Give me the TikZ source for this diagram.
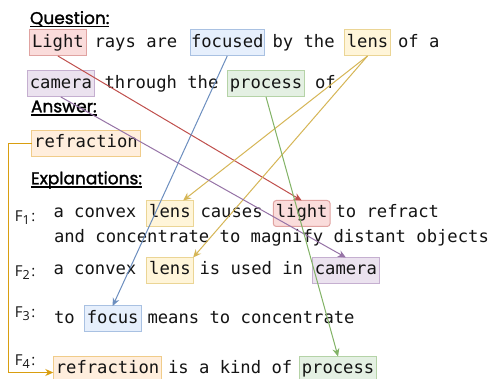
\documentclass[tikz,border=0pt]{standalone}
\usepackage{fontspec}
\setmainfont{Open Sans}
\newfontfamily\codefont{DejaVu Sans Mono}
\newfontfamily\headfont[FakeBold=1.4]{Poppins}
\usetikzlibrary{arrows.meta,calc}
\definecolor{redfill}{HTML}{FADCDB}
\definecolor{redborder}{HTML}{E0A3A1}
\definecolor{redline}{HTML}{C0504D}
\definecolor{bluefill}{HTML}{E6EFFC}
\definecolor{blueborder}{HTML}{A9C1E2}
\definecolor{blueline}{HTML}{6C8EBF}
\definecolor{yelfill}{HTML}{FFF5D9}
\definecolor{yelborder}{HTML}{EBD595}
\definecolor{yelline}{HTML}{D6B656}
\definecolor{purfill}{HTML}{EBE2EF}
\definecolor{purborder}{HTML}{C5AFD0}
\definecolor{purline}{HTML}{9673A6}
\definecolor{grnfill}{HTML}{E4F0E3}
\definecolor{grnborder}{HTML}{B5D3A7}
\definecolor{grnline}{HTML}{82B366}
\definecolor{orgfill}{HTML}{FFEEDD}
\definecolor{orgborder}{HTML}{F0CC8A}
\definecolor{orgline}{HTML}{D99E10}
\begin{document}
\begin{tikzpicture}[x=1pt,y=-1pt,
  code/.style={font=\codefont\fontsize{17.2}{20}\selectfont, inner sep=0pt, outer sep=0pt, anchor=base west, text=black!92},
  hl/.style={code, inner xsep=2.5pt, inner ysep=3.5pt, text height=14pt, text depth=5pt, line width=1pt},
  redbox/.style={hl, fill=redfill, draw=redborder},
  bluebox/.style={hl, fill=bluefill, draw=blueborder},
  yelbox/.style={hl, fill=yelfill, draw=yelborder},
  purbox/.style={hl, fill=purfill, draw=purborder},
  grnbox/.style={hl, fill=grnfill, draw=grnborder},
  orgbox/.style={hl, fill=orgfill, draw=orgborder},
  head/.style={font=\headfont\fontsize{17}{20}\selectfont, inner sep=0pt, outer sep=0pt, anchor=base west},
  flab/.style={font=\fontsize{15}{17}\selectfont, inner sep=0pt, outer sep=0pt, anchor=base west, text=black!92},
  conn/.style={line width=1pt, -{Stealth[length=8pt,width=7pt]}},
  uline/.style={line width=1.5pt}
]
\clip (0,0) rectangle (496,379);
\fill[white] (0,0) rectangle (496,379);

% headings
\node[head] (hq) at (30,24) {Question:};
\node[head] (ha) at (31,112.3) {Answer:};
\node[head] (he) at (31,184.3) {Explanations:};
\foreach \h in {hq,ha,he}
  \draw[uline] ([yshift=-2.5pt]\h.base west) -- ([yshift=-2.5pt]\h.base east);

% question line 1
\node[redbox] (qLight) at (29.5,47.5) {Light};
\node[code] (q1a) at (94.5,47.5) {rays are};
\node[bluebox, inner xsep=1pt] (qFocused) at (190,47.5) {focused};
\node[code] (q1b) at (272.5,47.5) {by the};
\node[yelbox] (qLens) at (344.3,47.5) {lens};
\node[code] (q1c) at (398,47.5) {of a};
% question line 2
\node[purbox] (qCamera) at (27.3,88.5) {camera};
\node[code] (q2a) at (104.5,88.5) {through the};
\node[grnbox] (qProcess) at (227.3,88.5) {process};
\node[code] (q2b) at (315,88.5) {of};

% answer
\node[orgbox] (aRefr) at (31.7,148) {refraction};

% F labels
\node[flab] (f1) at (15,221.7) {F\raisebox{-2.8pt}{\fontsize{12.5}{12.5}\selectfont 1}\kern1.5pt:};
\node[flab] (f2) at (15,276.7) {F\raisebox{-2.8pt}{\fontsize{12.5}{12.5}\selectfont 2}\kern1.5pt:};
\node[flab] (f3) at (15,318) {F\raisebox{-2.8pt}{\fontsize{12.5}{12.5}\selectfont 3}\kern1.5pt:};
\node[flab] (f4) at (15,366) {F\raisebox{-2.8pt}{\fontsize{12.5}{12.5}\selectfont 4}\kern1.5pt:};

% F1
\node[code] (e1a) at (53.5,218) {a convex};
\node[yelbox] (fLensA) at (146.7,218) {lens};
\node[code] (e1b) at (200.5,218) {causes};
\node[redbox, rounded corners=3pt] (fLight) at (273.3,218) {light};
\node[code] (e1c) at (335.5,218) {to refract};
\node[code] (e1d) at (54,242.5) {and concentrate to magnify distant objects};
% F2
\node[code] (e2a) at (53.5,275) {a convex};
\node[yelbox] (fLensB) at (146.7,275) {lens};
\node[code] (e2b) at (199.5,275) {is used in};
\node[purbox] (fCamera) at (312.3,275) {camera};
% F3
\node[code] (e3a) at (54,323.5) {to};
\node[bluebox] (fFocus) at (84.3,323.5) {focus};
\node[code] (e3b) at (147.5,323.5) {means to concentrate};
% F4
\node[orgbox] (fRefr) at (53.3,374) {refraction};
\node[code] (e4a) at (168,374) {is a kind of};
\node[grnbox] (fProcess) at (299.3,374) {process};

% connectors
\coordinate (lensAin) at ($(fLensA.north)!0.57!(fLensA.north east)$);
\coordinate (f4in) at ($(fRefr.west)+(0,3)$);
\draw[conn, redline] (qLight.south) -- (fLight.north);
\draw[conn, blueline] (qFocused.south) -- (fFocus.north);
\draw[conn, yelline] (qLens.south) -- (lensAin);
\draw[conn, yelline] (qLens.south) -- (fLensB.north east);
\draw[conn, purline] (qCamera.south) -- (fCamera.north);
\draw[conn, grnline] (qProcess.south) -- (fProcess.north);
\draw[conn, orgline] (aRefr.west) -- ++(-23.5,0) |- (f4in);
\end{tikzpicture}
\end{document}
